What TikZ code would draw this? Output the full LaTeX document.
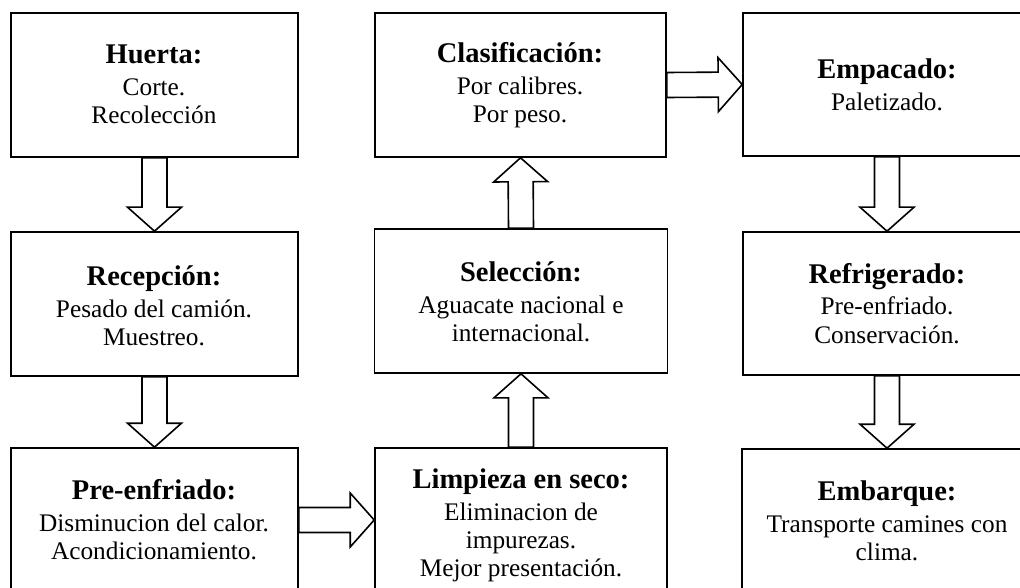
\documentclass[tikz,border=0pt]{standalone}
\usepackage{fontspec}
\setmainfont{Liberation Serif}
\usetikzlibrary{calc}
\newcommand\boxtext[2]{\vtop{\baselineskip=28pt\lineskiplimit=-20pt\halign{\hfil\fontsize{25.3}{28}\selectfont##\hfil\cr{\fontsize{28.5}{32}\selectfont\bfseries #1}\cr\noalign{\kern4pt}#2\crcr}}}
\tikzset{
  stage/.style={draw=black, line width=1.6pt, fill=white, rectangle, inner sep=0pt},
  lbl/.style={anchor=base, inner sep=0pt, text=black},
  barr/.style={draw=black, line width=1.6pt, fill=white, line join=miter}
}
\newcommand\barrow[2]{%
  \draw[barr] let \p1=(#1), \p2=(#2), \n1={atan2(\y2-\y1,\x2-\x1)}, \n2={veclen(\x2-\x1,\y2-\y1)} in
    [shift={(\p1)}, rotate=\n1] (0,-12.5) -- ({\n2-24},-12.5) -- ({\n2-24},-27) -- ({\n2},0) -- ({\n2-24},27) -- ({\n2-24},12.5) -- (0,12.5) -- cycle;}
\begin{document}
\begin{tikzpicture}[x=1pt,y=-1pt]
\clip (0,0) rectangle (1020,588);
\fill[white] (0,0) rectangle (1020,588);
% boxes
\node[stage, minimum width=287, minimum height=144] (huerta) at (154.5,85) {};
\node[stage, minimum width=287, minimum height=144] (recep) at (154.5,304) {};
\node[stage, minimum width=287, minimum height=144] (pre) at (154.5,520) {};
\node[stage, minimum width=291, minimum height=144] (clasif) at (520.5,85) {};
\node[stage, minimum width=293, minimum height=144] (selec) at (521,301) {};
\node[stage, minimum width=292, minimum height=144] (limp) at (521,520) {};
\node[stage, minimum width=288, minimum height=143] (emp) at (887,84.5) {};
\node[stage, minimum width=288, minimum height=143] (refrig) at (887,303.5) {};
\node[stage, minimum width=290, minimum height=144] (emb) at (887,521) {};
% texts
\node[lbl] (t1) at (154,64) {\boxtext{Huerta:}{Corte.\cr Recolección}};
\node[lbl] (t2) at (154,285) {\boxtext{Recepción:}{Pesado del camión.\cr Muestreo.}};
\node[lbl] (t3) at (154,499) {\boxtext{Pre-enfriado:}{Disminucion del calor.\cr Acondicionamiento.}};
\node[lbl] (t4) at (520,63) {\boxtext{Clasificación:}{Por calibres.\cr Por peso.}};
\node[lbl] (t5) at (521,281) {\boxtext{Selección:}{Aguacate nacional e\cr internacional.}};
\node[lbl] (t6) at (521,488) {\boxtext{Limpieza en seco:}{Eliminacion de\cr impurezas.\cr Mejor presentación.}};
\node[lbl] (t7) at (887,79) {\boxtext{Empacado:}{Paletizado.}};
\node[lbl] (t8) at (887,283) {\boxtext{Refrigerado:}{Pre-enfriado.\cr Conservación.}};
\node[lbl] (t9) at (887,500) {\boxtext{Embarque:}{Transporte camines con\cr clima.}};
% arrows
\barrow{huerta.south}{recep.north}
\barrow{recep.south}{pre.north}
\barrow{limp.north}{selec.south}
\barrow{selec.north}{clasif.south}
\barrow{clasif.east}{emp.west}
\barrow{pre.east}{limp.west}
\barrow{emp.south}{refrig.north}
\barrow{refrig.south}{emb.north}
\end{tikzpicture}
\end{document}
